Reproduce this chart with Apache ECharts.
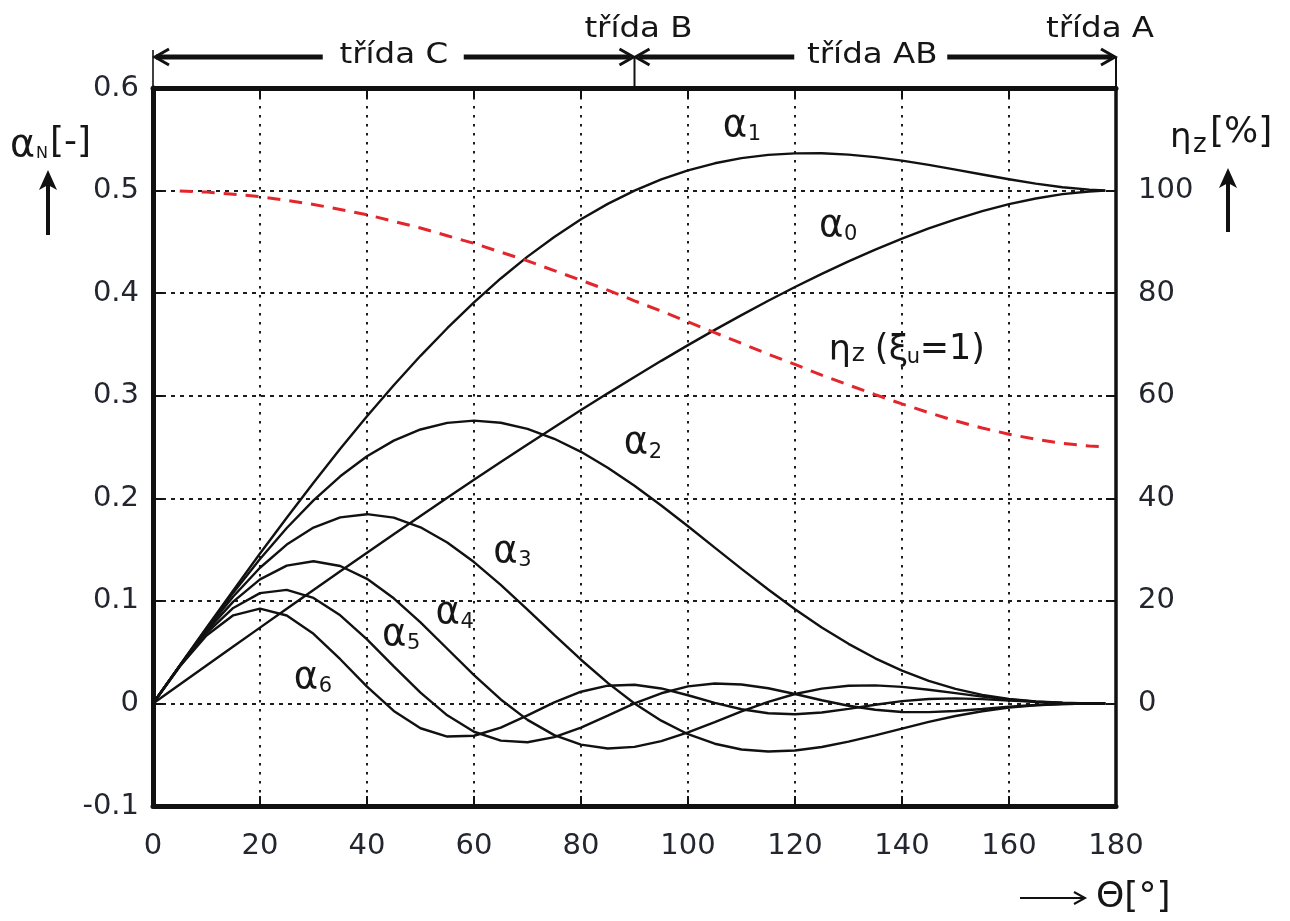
<!DOCTYPE html>
<html>
<head>
<meta charset="utf-8">
<script src="https://cdn.jsdelivr.net/npm/echarts@6/dist/echarts.min.js"></script>
<style>
html,body{margin:0;padding:0;background:#fff;}
#c{width:1290px;height:921px;}
</style>
</head>
<body>
<div id="c"></div>
<script>
// ---- data (Θ in degrees) ----
const theta  = [0,5,10,15,20,25,30,35,40,45,50,55,60,65,70,75,80,85,90,95,100,105,110,115,120,125,130,135,140,145,150,155,160,165,170,175,178];
const alpha0 = [0,.0185,.0370,.0555,.0739,.0923,.1106,.1288,.1469,.1649,.1828,.2005,.2180,.2353,.2524,.2693,.2860,.3023,.3183,.3340,.3493,.3642,.3786,.3926,.4060,.4188,.4310,.4425,.4532,.4631,.4720,.4800,.4868,.4923,.4965,.4991,.4999];
const alpha1 = [0,.0370,.0738,.1102,.1461,.1811,.2152,.2482,.2799,.3102,.3389,.3658,.3910,.4143,.4356,.4548,.4720,.4870,.5000,.5109,.5197,.5266,.5316,.5348,.5363,.5364,.5350,.5326,.5292,.5250,.5204,.5157,.5110,.5068,.5033,.5009,.5001];
const alpha2 = [0,.0369,.0731,.1080,.1408,.1710,.1980,.2214,.2409,.2562,.2671,.2735,.2757,.2736,.2676,.2580,.2453,.2298,.2122,.1930,.1727,.1519,.1312,.1111,.0919,.0741,.0581,.0440,.0319,.0220,.0142,.0084,.0044,.0019,.0006,.0001,0];
const alpha3 = [0,.0368,.0720,.1043,.1323,.1549,.1715,.1814,.1845,.1811,.1717,.1569,.1378,.1156,.0915,.0668,.0426,.0200,0,-.0168,-.0300,-.0393,-.0449,-.0469,-.0459,-.0425,-.0373,-.0311,-.0245,-.0180,-.0123,-.0076,-.0041,-.0018,-.0006,-.0001,0];
const alpha4 = [0,.0366,.0705,.0993,.1210,.1343,.1386,.1340,.1215,.1025,.0790,.0533,.0276,.0039,-.0160,-.0309,-.0402,-.0439,-.0424,-.0368,-.0283,-.0182,-.0078,.0016,.0092,.0144,.0172,.0176,.0161,.0133,.0100,.0066,.0038,.0017,.0005,.0001,0];
const alpha5 = [0,.0363,.0686,.0931,.1075,.1107,.1029,.0859,.0625,.0362,.0105,-.0116,-.0276,-.0363,-.0378,-.0329,-.0235,-.0118,0,.0099,.0166,.0194,.0185,.0148,.0092,.0031,-.0023,-.0062,-.0083,-.0085,-.0074,-.0054,-.0033,-.0016,-.0005,-.0001,0];
const alpha6 = [0,.0360,.0662,.0859,.0925,.0857,.0679,.0431,.0164,-.0073,-.0242,-.0323,-.0315,-.0236,-.0116,.0011,.0114,.0173,.0182,.0146,.0080,.0006,-.0057,-.0096,-.0105,-.0088,-.0053,-.0013,.0022,.0043,.0049,.0042,.0029,.0015,.0005,.0001,0];
const etaZ   = [null,99.9,99.7,99.3,98.8,98.1,97.3,96.3,95.3,94.0,92.7,91.2,89.7,88.0,86.3,84.4,82.5,80.6,78.5,76.5,74.4,72.3,70.2,68.1,66.1,64.0,62.1,60.2,58.4,56.7,55.1,53.7,52.5,51.5,50.7,50.2,50.0];

const xTicks = {min:0, max:180, step:20};
const leftTicks = {min:-0.1, max:0.6, step:0.1};
const rightTicks = {min:-20, max:120, step:20, shownMin:0, shownMax:100};

// label anchors in data units [Θ, α]
const curveLabels = [
  {main:'α', sub:'1', at:[106.5, 0.563]},
  {main:'α', sub:'0', at:[124.5, 0.4655]},
  {main:'α', sub:'2', at:[88.0, 0.2538]},
  {main:'α', sub:'3', at:[63.6, 0.1476]},
  {main:'α', sub:'4', at:[52.8, 0.0881]},
  {main:'α', sub:'5', at:[42.8, 0.0667]},
  {main:'α', sub:'6', at:[26.3, 0.0248]}
];
const etaLabelAt = [126.3, 0.3436];

// ---- chart ----
const FONT = 'DejaVu Sans';
const INK = '#161616';
const TICKINK = '#23262f';
const chart = echarts.init(document.getElementById('c'), null, {renderer:'canvas'});
const mk = arr => theta.map((t, i) => [t, arr[i]]);
const blk = {color:'#111111', width:2.4};
const lineSeries = (arr) => ({type:'line', data:mk(arr), xAxisIndex:0, yAxisIndex:0, symbol:'none', smooth:false, lineStyle:blk, z:3, silent:true});

const axisLineStyle = w => ({show:true, onZero:false, lineStyle:{color:'#111111', width:w}});
const tickStyle = {show:true, inside:true, length:10, lineStyle:{color:'#111111', width:2}};
const lblStyle = {fontFamily:FONT, fontSize:29, color:TICKINK};

chart.setOption({
  animation:false,
  backgroundColor:'#ffffff',
  grid:{left:153, right:174, top:88, bottom:115, containLabel:false, outerBoundsMode:'none'},
  xAxis:[
    {type:'value', position:'bottom', min:xTicks.min, max:xTicks.max, interval:xTicks.step,
     axisLine:axisLineStyle(5), axisTick:tickStyle,
     axisLabel:Object.assign({margin:26}, lblStyle),
     splitLine:{show:true, lineStyle:{color:'#1c1c1c', width:2, type:[2.5,6.5]}}},
    {type:'value', position:'top', min:xTicks.min, max:xTicks.max, interval:xTicks.step,
     axisLine:axisLineStyle(5), axisTick:tickStyle, axisLabel:{show:false}, splitLine:{show:false}}
  ],
  yAxis:[
    {type:'value', position:'left', min:leftTicks.min, max:leftTicks.max, interval:leftTicks.step,
     axisLine:axisLineStyle(5), axisTick:tickStyle,
     axisLabel:Object.assign({margin:14}, lblStyle),
     splitLine:{show:true, lineStyle:{color:'#1c1c1c', width:1.8, type:[4,5]}}},
    {type:'value', position:'right', min:rightTicks.min, max:rightTicks.max, interval:rightTicks.step,
     axisLine:axisLineStyle(3.5), axisTick:tickStyle,
     axisLabel:Object.assign({margin:22, formatter: v => (v < rightTicks.shownMin || v > rightTicks.shownMax) ? '' : String(v)}, lblStyle),
     splitLine:{show:false}}
  ],
  series:[
    lineSeries(alpha0), lineSeries(alpha1), lineSeries(alpha2), lineSeries(alpha3),
    lineSeries(alpha4), lineSeries(alpha5), lineSeries(alpha6),
    {type:'line', data:mk(etaZ), xAxisIndex:0, yAxisIndex:1, symbol:'none', connectNulls:false, silent:true,
     lineStyle:{color:'#e3262c', width:3, type:[13,9]}, z:4}
  ]
});

// ---- annotations ----
const P = (x, y) => chart.convertToPixel({xAxisIndex:0, yAxisIndex:0}, [x, y]);
function T(x, y, text, size, extra) {
  const el = {type:'text', x:x, y:y, silent:true, z:10,
    style:{text:text, fontSize:size, fontFamily:FONT, fill:INK,
           textAlign:'left', textVerticalAlign:'middle', align:'left', verticalAlign:'middle'}};
  if (extra) {
    if (extra.align) { el.style.textAlign = extra.align; el.style.align = extra.align; }
    if (extra.scaleX) { el.scaleX = extra.scaleX; }
    if (extra.fill) { el.style.fill = extra.fill; }
  }
  return el;
}
function L(x1, y1, x2, y2, w) {
  return {type:'line', silent:true, z:10, shape:{x1:x1, y1:y1, x2:x2, y2:y2}, style:{stroke:'#111111', lineWidth:w}};
}
function PL(pts, w) {
  return {type:'polyline', silent:true, z:10, shape:{points:pts}, style:{stroke:'#111111', lineWidth:w, fill:null, lineJoin:'miter'}};
}
function PG(pts) {
  return {type:'polygon', silent:true, z:10, shape:{points:pts}, style:{fill:'#111111'}};
}

const x0 = P(0, 0)[0], x90 = P(90, 0)[0], x180 = P(180, 0)[0];
const yTop = P(0, 0.6)[1];
const ay = 57;
const cC = (x0 + x90) / 2;
const cAB = (x90 + x180) / 2 - 3;
const g = [];
// class bracket lines
g.push(L(x0, 50, x0, yTop, 1.6), L(x90, ay, x90, yTop, 2), L(x180, ay, x180, yTop, 2));
g.push(L(x0 + 3, ay, cC - 71, ay, 5), PL([[x0 + 16, ay - 8], [x0 + 2, ay], [x0 + 16, ay + 8]], 3));
g.push(L(cC + 70, ay, x90 - 4, ay, 5), PL([[x90 - 15, ay - 8], [x90 - 1, ay], [x90 - 15, ay + 8]], 3));
g.push(L(x90 + 4, ay, cAB - 78, ay, 5), PL([[x90 + 15, ay - 8], [x90 + 1, ay], [x90 + 15, ay + 8]], 3));
g.push(L(cAB + 75, ay, x180 - 4, ay, 5), PL([[x180 - 15, ay - 8], [x180 - 1, ay], [x180 - 15, ay + 8]], 3));
g.push(T(cC, 55, 'třída C', 29, {align:'center', scaleX:1.12}));
g.push(T(cAB, 55, 'třída AB', 29, {align:'center', scaleX:1.12}));
g.push(T(x90 + 4, 29, 'třída B', 29, {align:'center', scaleX:1.12}));
g.push(T(x180 - 16, 29, 'třída A', 29, {align:'center', scaleX:1.12}));

// left axis name αN[-] and arrow
g.push(T(10, 146, 'α', 38), T(36, 154, 'N', 16), T(50, 143, '[-]', 36));
g.push(L(48, 183, 48, 235, 4), PG([[48, 170], [39, 190], [48, 185], [57, 190]]));
// right axis name ηz[%] and arrow
g.push(T(1170, 138, 'η', 34), T(1193, 145, 'z', 26), T(1210, 133, '[%]', 36));
g.push(L(1228, 181, 1228, 232, 4), PG([[1228, 168], [1219, 188], [1228, 183], [1237, 188]]));
// x axis name
g.push(L(1020, 898, 1083, 898, 2), PL([[1074, 892], [1085, 898], [1074, 904]], 2));
g.push(T(1096, 898, 'Θ[°]', 36));

// curve labels
curveLabels.forEach(lb => {
  const p = P(lb.at[0], lb.at[1]);
  g.push(T(p[0], p[1], lb.main, 37), T(p[0] + 25, p[1] + 9, lb.sub, 21));
});
// eta label
const pe = P(etaLabelAt[0], etaLabelAt[1]);
g.push(T(pe[0], pe[1], 'η', 35), T(pe[0] + 23, pe[1] + 4, 'z', 25), T(pe[0] + 46, pe[1] - 1, '(', 35),
       T(pe[0] + 60, pe[1], 'ξ', 35), T(pe[0] + 78, pe[1] + 7, 'u', 21), T(pe[0] + 91, pe[1] - 1, '=1)', 35));

chart.setOption({graphic:{elements:g}});
</script>
</body>
</html>
